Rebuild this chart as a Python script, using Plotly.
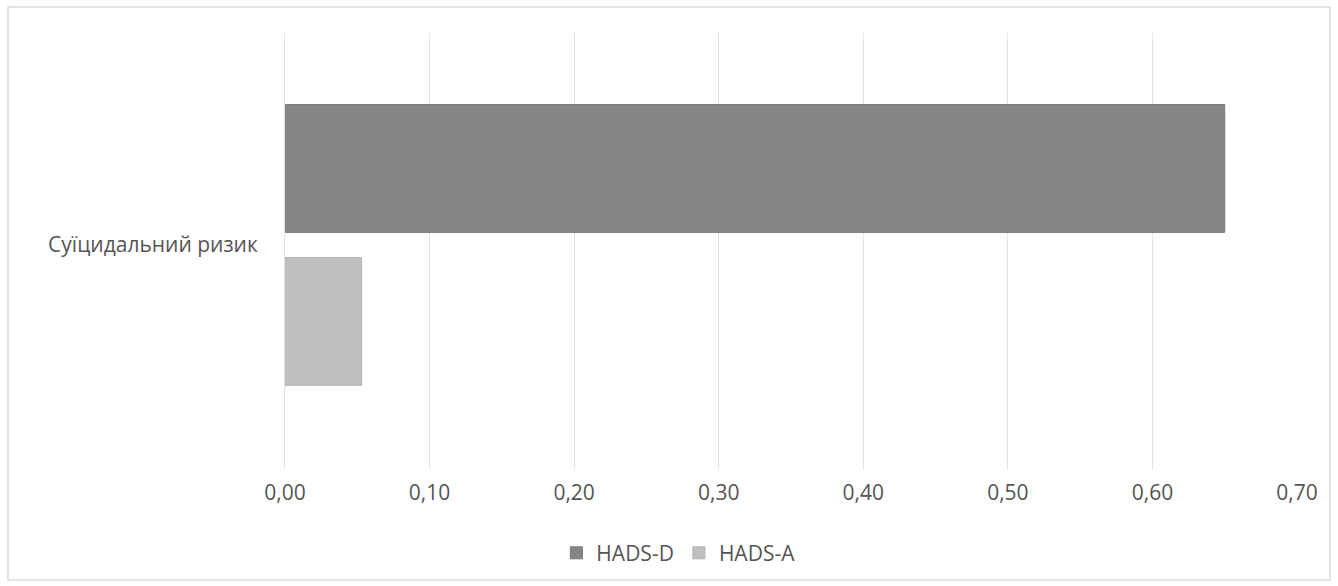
import plotly.graph_objects as go

# Chart data
categories = ["Суїцидальний ризик"]
series_names = ["HADS-D", "HADS-A"]
hads_d = [0.65]
hads_a = [0.053]
x_ticks = [0.0, 0.1, 0.2, 0.3, 0.4, 0.5, 0.6, 0.7]

text_color = "#555555"
font_family = "Open Sans, Liberation Sans, sans-serif"
font_size = 21

fig = go.Figure()
fig.add_trace(go.Bar(
    name=series_names[0], y=categories, x=hads_d, orientation="h",
    marker=dict(color="#858585", line=dict(color="#7a7a7a", width=1)),
))
fig.add_trace(go.Bar(
    name=series_names[1], y=categories, x=hads_a, orientation="h",
    marker=dict(color="#bfbfbf", line=dict(color="#b3b3b3", width=1)),
))

# outer chart frame (in plot-area paper units)
L, R, T, B = 285, 1297, 33, 470
W, H = R - L, B - T
def px(x):
    return (x - L) / W
def py(y):
    return (B - y) / H

fig.add_shape(type="rect", xref="paper", yref="paper",
              x0=px(8), x1=px(1330), y0=py(580), y1=py(7),
              line=dict(color="#dddddd", width=1.5), fillcolor="rgba(0,0,0,0)",
              layer="below")

fig.update_layout(
    width=1338, height=586,
    margin=dict(l=L, r=1338 - R, t=T, b=586 - B),
    paper_bgcolor="white", plot_bgcolor="white",
    barmode="group", bargap=0.30, bargroupgap=0.164,
    separators=", ",
    font=dict(family=font_family, size=font_size, color=text_color),
    showlegend=True,
    legend=dict(orientation="h", xref="container", yref="container",
                x=0.507, y=0.056, xanchor="center", yanchor="middle",
                font=dict(size=font_size, color=text_color), itemwidth=30,
                traceorder="normal"),
    xaxis=dict(range=[0, 0.7], tickvals=x_ticks, tickformat=".2f",
               showgrid=True, gridcolor="#e3e3e3", gridwidth=1,
               zeroline=False, showline=False, ticks="",
               ticklabelstandoff=8, tickfont=dict(size=font_size, color=text_color)),
    yaxis=dict(range=[0.515, -0.485], showgrid=False, zeroline=False,
               showline=True, linecolor="#e3e3e3", linewidth=1, ticks="",
               ticklabelstandoff=22, tickfont=dict(size=font_size, color=text_color)),
)

fig.write_html("out.html")
